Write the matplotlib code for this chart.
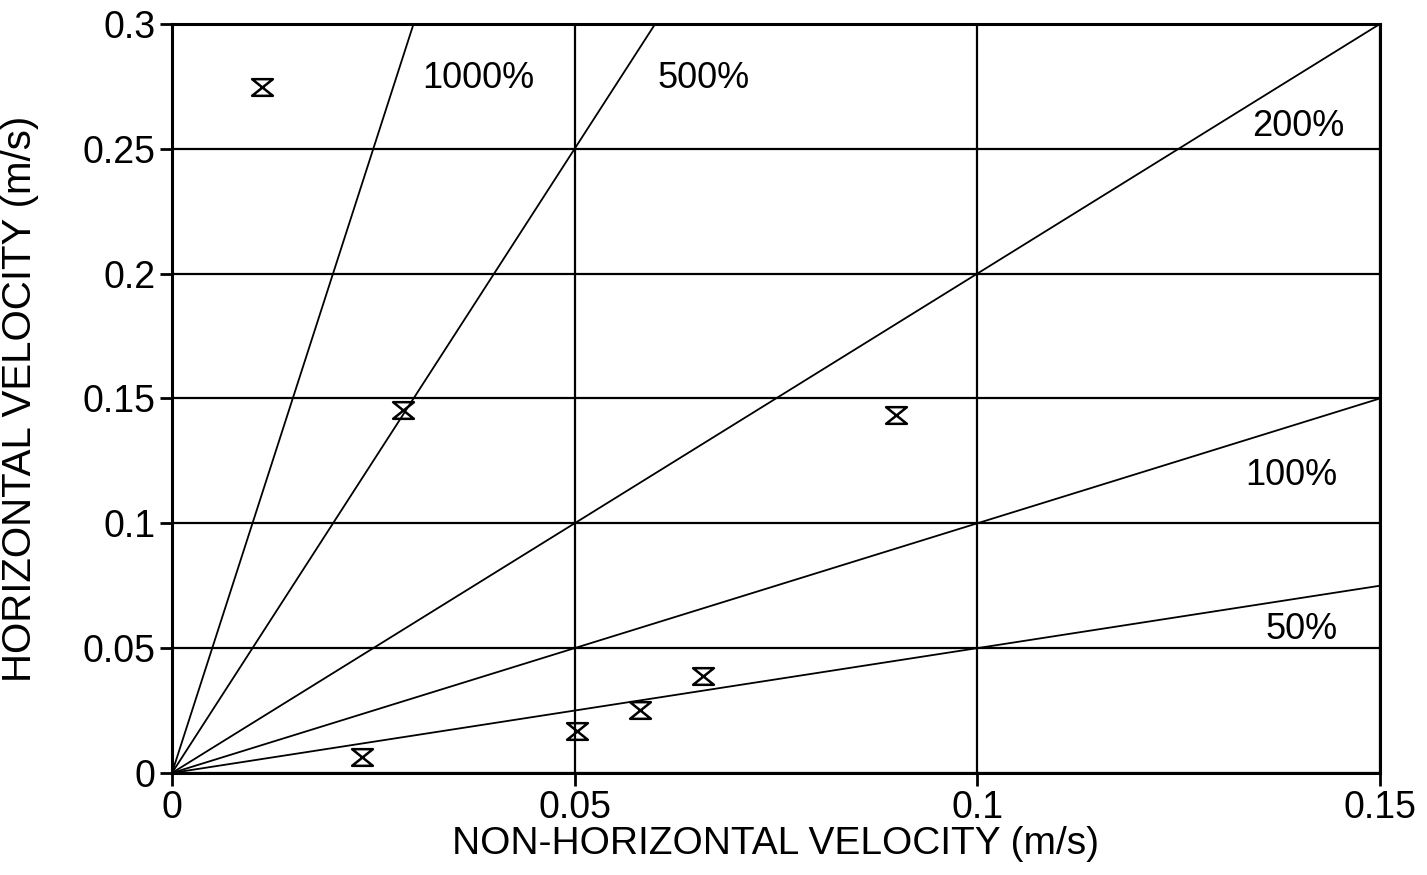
import numpy as np
import matplotlib
matplotlib.use("Agg")
import matplotlib.pyplot as plt
from matplotlib.path import Path

plt.rcParams['font.family'] = ['Liberation Sans', 'DejaVu Sans']

# measured points (non-horizontal, horizontal) in m/s
x_pts = [0.0112, 0.0287, 0.0899, 0.0236, 0.0503, 0.0581, 0.0659]
y_pts = [0.2748, 0.1454, 0.1434, 0.0064, 0.0168, 0.0252, 0.0389]

# ratio lines horizontal / non-horizontal
ratios = [10, 5, 2, 1, 0.5]
ratio_labels = ['1000%', '500%', '200%', '100%', '50%']
label_x = [0.0380, 0.0660, 0.1399, 0.1390, 0.1403]
label_y = [0.2780, 0.2780, 0.2590, 0.1190, 0.0573]

# hourglass marker
hourglass = Path([(-1, 0.8), (1, 0.8), (-1, -0.8), (1, -0.8), (-1, 0.8)],
                 [Path.MOVETO, Path.LINETO, Path.LINETO, Path.LINETO, Path.CLOSEPOLY])

fig = plt.figure(figsize=(14.27, 8.75), dpi=100)
ax = fig.add_axes([0.1205, 0.1166, 0.8465, 0.856])

ax.set_xlim(0, 0.15)
ax.set_ylim(0, 0.3)
ax.set_xticks([0, 0.05, 0.1, 0.15])
ax.set_xticklabels(['0', '0.05', '0.1', '0.15'])
ax.set_yticks([0, 0.05, 0.1, 0.15, 0.2, 0.25, 0.3])
ax.set_yticklabels(['0', '0.05', '0.1', '0.15', '0.2', '0.25', '0.3'])
ax.grid(True, color='black', linewidth=1.6)
ax.set_axisbelow(True)

xs = np.array([0, 0.15])
for r in ratios:
    ax.plot(xs, r * xs, color='black', linewidth=1.3)
for t, lx, ly in zip(ratio_labels, label_x, label_y):
    ax.text(lx, ly, t, fontsize=26, ha='center', va='center')

ax.plot(x_pts, y_pts, linestyle='none', marker=hourglass, markersize=15,
        markerfacecolor='none', markeredgecolor='black', markeredgewidth=1.8)

for s in ax.spines.values():
    s.set_linewidth(2.2)
ax.tick_params(direction='out', length=9, width=2, labelsize=27, pad=3)
ax.set_xlabel('NON-HORIZONTAL VELOCITY (m/s)', fontsize=28, labelpad=0)
ax.set_ylabel('HORIZONTAL VELOCITY (m/s)', fontsize=29)
ax.yaxis.set_label_coords(-0.11, 0.5)

fig.savefig('out.png', dpi=100, facecolor='white')
